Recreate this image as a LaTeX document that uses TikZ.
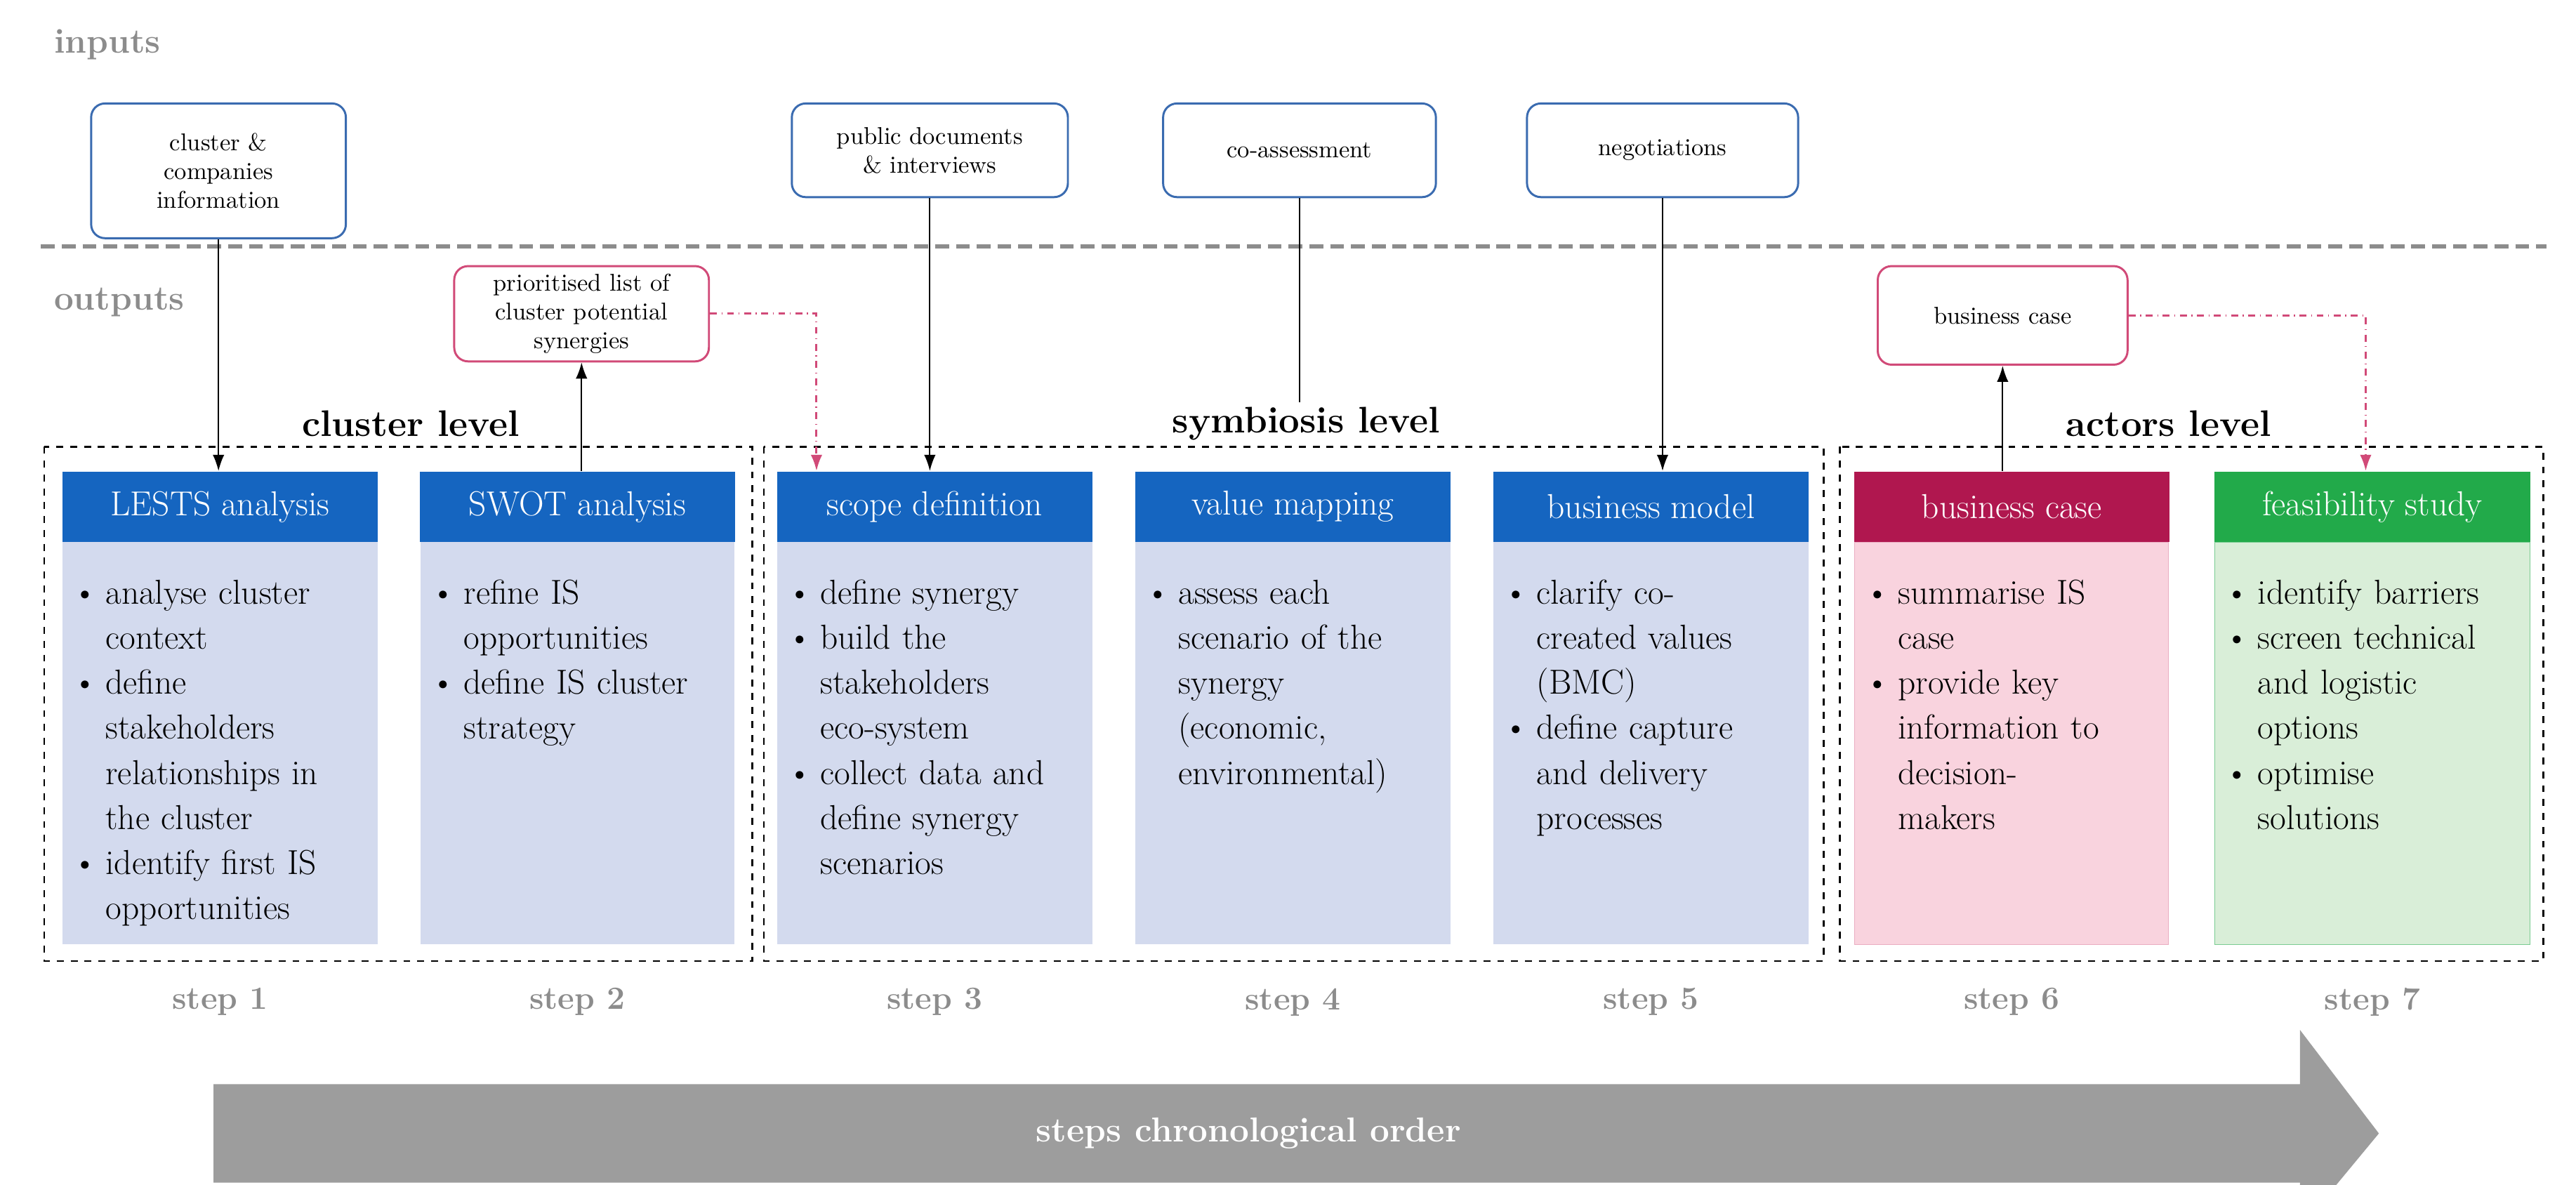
\documentclass[tikz,border=0pt]{standalone}
\usetikzlibrary{arrows.meta}
\definecolor{hblue}{RGB}{21,101,192}
\definecolor{bblue}{RGB}{211,218,238}
\definecolor{hred}{RGB}{176,23,79}
\definecolor{bred}{RGB}{249,211,222}
\definecolor{hgreen}{RGB}{34,170,74}
\definecolor{bgreen}{RGB}{217,238,216}
\definecolor{ibord}{RGB}{58,107,176}
\definecolor{obord}{RGB}{209,74,120}
\definecolor{gr}{RGB}{140,140,140}
\newcommand{\bi}{\par\hangindent=0.95em\hangafter=1\noindent\makebox[0.95em][l]{\textbullet}}
\begin{document}
\begin{tikzpicture}[x=0.025cm,y=-0.025cm,
 hdr/.style={minimum width=4.8cm,minimum height=1.075cm,text=white,font=\fontsize{15}{17}\selectfont,inner sep=0pt},
 body/.style={anchor=north west,text width=4.6cm,inner sep=0pt,font=\fontsize{15}{19.5}\selectfont\raggedright},
 ibox/.style={draw=ibord,rounded corners=6pt,line width=0.9pt,align=center,font=\fontsize{10.5}{12.5}\selectfont,inner sep=0pt},
 obox/.style={draw=obord,rounded corners=6pt,line width=0.9pt,align=center,font=\fontsize{10.5}{12.5}\selectfont,inner sep=0pt},
 grp/.style={draw=black,dashed,line width=0.8pt},
 lvl/.style={font=\bfseries\fontsize{16}{18}\selectfont},
 stp/.style={text=gr,font=\bfseries\fontsize{14}{16}\selectfont},
 conn/.style={-{Latex[length=7pt,width=5pt]},line width=0.6pt},
 dd/.style={draw=obord,dash dot,line width=0.9pt,-{Latex[length=7pt,width=5pt]}}]
\useasboundingbox (0,0) rectangle (1568,721);
\node[text=gr,font=\bfseries\fontsize{15}{17}\selectfont,anchor=west] (in) at (28,27) {inputs};
\node[text=gr,font=\bfseries\fontsize{15}{17}\selectfont,anchor=west] (out) at (28,184) {outputs};
\draw[gr,line width=1.8pt,dash pattern=on 6pt off 3pt] (25,150) -- (1550,150);
% groups
\draw[grp] (27,272) rectangle (458,585);
\draw[grp] (465,272) rectangle (1110,585);
\draw[grp] (1120,272) rectangle (1548,585);
\node[lvl] (l1) at (250,258) {cluster level};
\node[lvl] (l2) at (795,258) {symbiosis level};
\node[lvl] (l3) at (1320,258) {actors level};
% bodies
\fill[bblue] (38,330) rectangle (230,575);
\fill[bblue] (256,330) rectangle (447,575);
\fill[bblue] (473,330) rectangle (665,575);
\fill[bblue] (691,330) rectangle (883,575);
\fill[bblue] (909,330) rectangle (1101,575);
\filldraw[fill=bred,draw=bred!80!hred] (1129,330) rectangle (1320,575);
\filldraw[fill=bgreen,draw=hgreen!60] (1348,330) rectangle (1540,575);
% headers
\node[hdr,fill=hblue] (h1) at (134,308.5) {LESTS analysis};
\node[hdr,fill=hblue] (h2) at (351.5,308.5) {SWOT analysis};
\node[hdr,fill=hblue] (h3) at (569,308.5) {scope definition};
\node[hdr,fill=hblue] (h4) at (787,308.5) {value mapping};
\node[hdr,fill=hblue] (h5) at (1005,308.5) {business model};
\node[hdr,fill=hred] (h6) at (1224.5,308.5) {business case};
\node[hdr,fill=hgreen] (h7) at (1444,308.5) {feasibility study};
% body texts
\node[body] (b1) at (44,340) {\bi analyse cluster\newline context\bi define\newline stakeholders\newline relationships in\newline the cluster\bi identify first IS\newline opportunities\par};
\node[body] (b2) at (262,340) {\bi refine IS\newline opportunities\bi define IS cluster\newline strategy\par};
\node[body] (b3) at (479,340) {\bi define synergy\bi build the\newline stakeholders\newline eco-system\bi collect data and\newline define synergy\newline scenarios\par};
\node[body] (b4) at (697,340) {\bi assess each\newline scenario of the\newline synergy\newline (economic,\newline environmental)\par};
\node[body] (b5) at (915,340) {\bi clarify co-\newline created values\newline (BMC)\bi define capture\newline and delivery\newline processes\par};
\node[body] (b6) at (1135,340) {\bi summarise IS\newline case\bi provide key\newline information to\newline decision-\newline makers\par};
\node[body] (b7) at (1354,340) {\bi identify barriers\bi screen technical\newline and logistic\newline options\bi optimise\newline solutions\par};
% steps
\node[stp] (s1) at (134,610) {step 1};
\node[stp] (s2) at (351.5,610) {step 2};
\node[stp] (s3) at (569,610) {step 3};
\node[stp] (s4) at (787,610) {step 4};
\node[stp] (s5) at (1005,610) {step 5};
\node[stp] (s6) at (1224.5,610) {step 6};
\node[stp] (s7) at (1444,610) {step 7};
% inputs
\node[ibox,minimum width=3.875cm,minimum height=2.05cm] (i1) at (133,104) {cluster \&\\companies\\information};
\node[ibox,minimum width=4.2cm,minimum height=1.425cm] (i3) at (566,91.5) {public documents\\\& interviews};
\node[ibox,minimum width=4.15cm,minimum height=1.425cm] (i4) at (791,91.5) {co-assessment};
\node[ibox,minimum width=4.125cm,minimum height=1.425cm] (i5) at (1012,91.5) {negotiations};
% outputs
\node[obox,minimum width=3.875cm,minimum height=1.45cm] (o2) at (354,191) {prioritised list of\\cluster potential\\synergies};
\node[obox,minimum width=3.8cm,minimum height=1.5cm] (o6) at (1219,192) {business case};
% connectors
\draw[conn] (i1.south) -- (i1.south |- h1.north);
\draw[conn] (o2.south |- h2.north) -- (o2.south);
\coordinate (d1) at (497,191);
\draw[dd] (o2.east) -- (d1) -- (d1 |- h3.north);
\draw[conn] (i3.south) -- (i3.south |- h3.north);
\coordinate (c4) at (791,245);
\draw[line width=0.6pt] (i4.south) -- (c4);
\draw[conn] (i5.south) -- (i5.south |- h5.north);
\draw[conn] (o6.south |- h6.north) -- (o6.south);
\coordinate (d2) at (1440,192);
\draw[dd] (o6.east) -- (d2) -- (d2 |- h7.north);
% chronological arrow
\fill[gr!85] (130,660) -- (1400,660) -- (1400,627) -- (1448,690) -- (1400,748) -- (1400,720) -- (130,720) -- cycle;
\node[text=white,font=\bfseries\fontsize{15}{17}\selectfont] (arr) at (760,690) {steps chronological order};
\end{tikzpicture}
\end{document}
